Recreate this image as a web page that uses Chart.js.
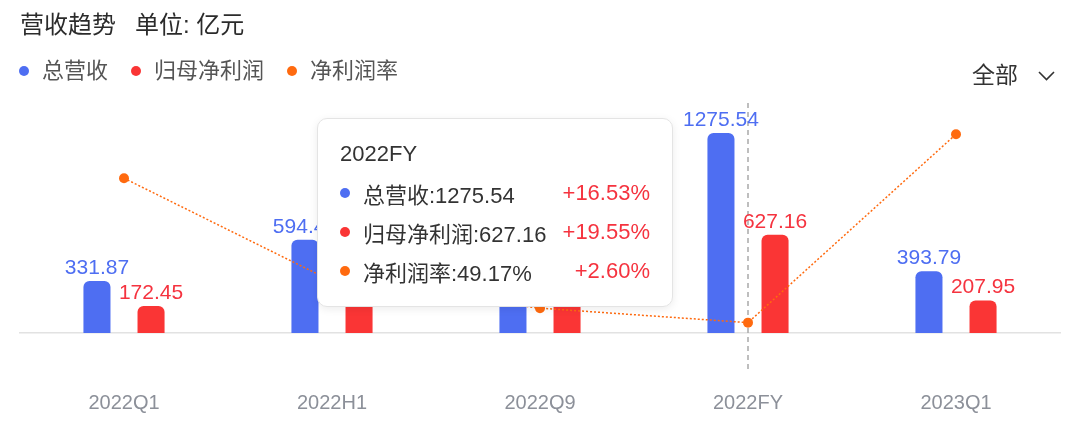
<!DOCTYPE html>
<html>
<head>
<meta charset="utf-8">
<script src="https://cdn.jsdelivr.net/npm/chart.js@4.4.0/dist/chart.umd.min.js"></script>
<style>
  body { margin: 0; background: #fff; font-family: "Liberation Sans", "Noto Sans CJK SC", sans-serif; }
  #wrap { position: relative; width: 1080px; height: 429px; overflow: hidden; }
  #chart { position: absolute; left: 0; top: 0; }
  #title { position: absolute; left: 20px; top: 10px; font-size: 24px; line-height: 30px; color: #2b2b2b; font-weight: 400; white-space: nowrap; }
  #title span + span { margin-left: 19px; }
  #legend { position: absolute; left: 19px; top: 56px; display: flex; font-size: 22px; line-height: 30px; color: #555; }
  #legend .item { display: flex; align-items: center; margin-right: 23px; }
  #legend .dot { width: 10px; height: 10px; border-radius: 50%; margin-right: 13px; }
  #range { position: absolute; left: 972px; top: 60px; font-size: 23px; line-height: 30px; color: #333; }
  #range svg { position: absolute; left: 66px; top: 11px; }
  #tip { position: absolute; display: none; box-sizing: border-box; width: 356px; height: 189px; padding: 22px 22px 0 22px;
         background: #fff; border: 1px solid #e4e4e4; border-radius: 10px; box-shadow: 0 2px 8px rgba(0,0,0,0.08);
         font-size: 22px; color: #333; }
  #tip .head { line-height: 26px; margin-bottom: 6px; }
  #tip .row { display: flex; align-items: center; height: 39px; white-space: nowrap; }
  #tip .dot { width: 10px; height: 10px; border-radius: 50%; margin-right: 13px; flex: none; }
  #tip .grow { margin-left: auto; color: #f5333f; }
</style>
</head>
<body>
<div id="wrap">
  <canvas id="chart" width="1080" height="429"></canvas>
  <div id="title"><span>营收趋势</span><span>单位: 亿元</span></div>
  <div id="legend"></div>
  <div id="range">全部<svg width="17" height="10" viewBox="0 0 17 10"><polyline points="1,1 8.5,8.5 16,1" fill="none" stroke="#333" stroke-width="1.6"/></svg></div>
  <div id="tip"></div>
</div>
<script>
const categories = ['2022Q1', '2022H1', '2022Q9', '2022FY', '2023Q1'];
const revenue = [331.87, 594.44, 906.67, 1275.54, 393.79];
const netProfit = [172.45, 297.94, 444.00, 627.16, 207.95];
const netMargin = [51.96, 49.97, 49.45, 49.17, 52.81];
const revenueYoY = [null, null, null, '+16.53%', null];
const profitYoY = [null, null, null, '+19.55%', null];
const marginYoY = [null, null, null, '+2.60%', null];
const activeIndex = 3;

const fontFamily = '"Liberation Sans", "Noto Sans CJK SC", sans-serif';
const blue = '#4e6ef2';
const red = '#fa3535';
const orange = '#ff6a0f';
const labelColors = ['#4e6ef2', '#f5333f'];

// values above each bar
const barLabels = {
  id: 'barLabels',
  afterDatasetsDraw(chart) {
    const { ctx } = chart;
    ctx.save();
    ctx.font = '21px ' + fontFamily;
    ctx.textAlign = 'center';
    ctx.textBaseline = 'alphabetic';
    [0, 1].forEach((d) => {
      const meta = chart.getDatasetMeta(d);
      meta.data.forEach((bar, i) => {
        ctx.fillStyle = labelColors[d];
        ctx.fillText(chart.data.datasets[d].data[i].toFixed(2), bar.x, bar.y - 7);
      });
    });
    ctx.restore();
  }
};

// dashed guide line at the hovered category
const crosshair = {
  id: 'crosshair',
  beforeDatasetsDraw(chart) {
    const { ctx, chartArea } = chart;
    const x = chart.scales.x.getPixelForValue(activeIndex);
    ctx.save();
    ctx.strokeStyle = '#a9a9a9';
    ctx.lineWidth = 1.5;
    ctx.setLineDash([5, 4]);
    ctx.beginPath();
    ctx.moveTo(x, chartArea.top - 10);
    ctx.lineTo(x, chartArea.bottom + 40);
    ctx.stroke();
    ctx.restore();
  }
};

function renderTooltip({ chart, tooltip }) {
  const el = document.getElementById('tip');
  if (tooltip.opacity === 0 || !tooltip.dataPoints || !tooltip.dataPoints.length) {
    el.style.display = 'none';
    return;
  }
  const i = tooltip.dataPoints[0].dataIndex;
  const growth = [revenueYoY, profitYoY, marginYoY];
  const points = tooltip.dataPoints.slice().sort((a, b) => a.datasetIndex - b.datasetIndex);
  let html = '<div class="head">' + categories[i] + '</div>';
  points.forEach((p) => {
    const ds = p.dataset;
    const value = p.datasetIndex === 2 ? p.raw.toFixed(2) + '%' : p.raw.toFixed(2);
    const color = ds.type === 'line' ? ds.borderColor : ds.backgroundColor;
    html += '<div class="row"><span class="dot" style="background:' + color + '"></span>' +
      '<span>' + ds.label + ':' + value + '</span>' +
      '<span class="grow">' + (growth[p.datasetIndex][i] || '') + '</span></div>';
  });
  el.innerHTML = html;
  const x = chart.scales.x.getPixelForValue(i);
  el.style.left = (x - 75 - 356) + 'px';
  el.style.top = (chart.chartArea.top + 5) + 'px';
  el.style.display = 'block';
}

const chart = new Chart(document.getElementById('chart').getContext('2d'), {
  type: 'bar',
  data: {
    labels: categories,
    datasets: [
      {
        label: '总营收',
        data: revenue,
        backgroundColor: blue,
        hoverBackgroundColor: blue,
        borderRadius: 6,
        yAxisID: 'y'
      },
      {
        label: '归母净利润',
        data: netProfit,
        backgroundColor: red,
        hoverBackgroundColor: red,
        borderRadius: 6,
        yAxisID: 'y'
      },
      {
        type: 'line',
        label: '净利润率',
        data: netMargin,
        borderColor: orange,
        backgroundColor: orange,
        borderWidth: 1.5,
        borderDash: [2, 2],
        pointRadius: 5,
        pointHoverRadius: 5,
        pointBackgroundColor: orange,
        pointBorderWidth: 0,
        tension: 0,
        order: -1,
        yAxisID: 'y1'
      }
    ]
  },
  options: {
    responsive: false,
    devicePixelRatio: 1,
    animation: false,
    events: [],
    categoryPercentage: 0.52,
    barPercentage: 0.5,
    layout: {
      padding: { top: 113, left: 20, right: 20, bottom: 14 }
    },
    scales: {
      x: {
        grid: { display: false, drawTicks: false },
        border: { display: true, color: '#e2e2e2', width: 1.5 },
        ticks: {
          padding: 58,
          color: '#8c9099',
          font: { size: 20, family: fontFamily }
        },
        afterFit: (scale) => { scale.height = 82; }
      },
      y: { display: false, min: 0, max: 1403 },
      y1: { display: false, min: 48.97, max: 53.22 }
    },
    plugins: {
      legend: { display: false },
      tooltip: {
        enabled: false,
        mode: 'index',
        external: renderTooltip
      }
    }
  },
  plugins: [crosshair, barLabels]
});

// legend built from the datasets
const legendEl = document.getElementById('legend');
chart.data.datasets.forEach((ds) => {
  const color = ds.type === 'line' ? ds.borderColor : ds.backgroundColor;
  const item = document.createElement('div');
  item.className = 'item';
  item.innerHTML = '<span class="dot" style="background:' + color + '"></span><span>' + ds.label + '</span>';
  legendEl.appendChild(item);
});

// show the 2022FY tooltip as in the screenshot
chart.tooltip.setActiveElements(
  [0, 1, 2].map((d) => ({ datasetIndex: d, index: activeIndex })),
  { x: chart.scales.x.getPixelForValue(activeIndex), y: chart.chartArea.top }
);
chart.update();
</script>
</body>
</html>
